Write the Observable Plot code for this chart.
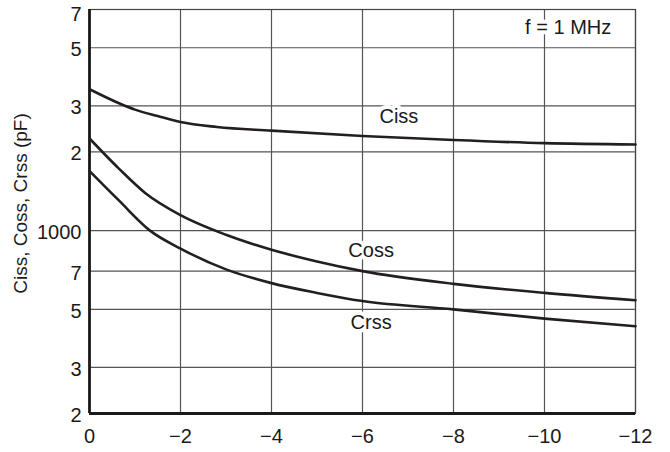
<!DOCTYPE html>
<html>
<head>
<meta charset="utf-8">
<script src="https://cdn.jsdelivr.net/npm/d3@7"></script>
<script src="https://cdn.jsdelivr.net/npm/@observablehq/plot@0.6"></script>
<style>
  html, body { margin: 0; padding: 0; background: white; }
  svg { display: block; }
</style>
</head>
<body>
<div id="chart"></div>
<script>
// Gate-source voltage (V) ticks and capacitance ticks (pF)
const xTicks = [0, -2, -4, -6, -8, -10, -12];
const yTicks = [200, 300, 500, 700, 1000, 2000, 3000, 5000, 7000];

// Ciss
const cissV = [0, -0.7, -1, -1.5, -2, -2.8, -4, -6, -8, -10, -12];
const cissC = [3470, 3040, 2900, 2740, 2600, 2490, 2410, 2300, 2220, 2160, 2135];
// Coss
const cossV = [0, -0.64, -1.23, -2, -3, -4, -5, -6, -8, -10, -12];
const cossC = [2250, 1730, 1390, 1146, 964, 845, 762, 700, 626, 578, 542];
// Crss
const crssV = [0, -0.64, -1.33, -2, -3, -4, -5, -6, -8, -10, -12];
const crssC = [1690, 1307, 1000, 854, 711, 630, 578, 538, 500, 461, 431];

// Annotations (data coordinates)
const labelText = ["Ciss", "Coss", "Crss", "f = 1 MHz"];
const labelV = [-6.8, -6.19, -6.19, -10.52];
const labelC = [2727, 836, 445, 5968];

const yLabel = "Ciss, Coss, Crss (pF)";

const toRows = (vs, cs) => vs.map((v, i) => ({v, c: cs[i]}));
const ciss = toRows(cissV, cissC);
const coss = toRows(cossV, cossC);
const crss = toRows(crssV, crssC);
const labels = labelText.map((t, i) => ({t, v: labelV[i], c: labelC[i]}));

const font = "'Liberation Sans', Arial, Helvetica, sans-serif";
const fs = 20;
const lineStyle = {x: "v", y: "c", stroke: "#231f20", strokeWidth: 2.6, curve: "monotone-x"};
const gridStyle = {stroke: "#555", strokeOpacity: 1, strokeWidth: 1.2};
const yFormat = d => d === 1000 ? "1000" : (d > 1000 ? String(d / 1000) : String(d / 100));
const yMax = yTicks[yTicks.length - 1];

const chart = Plot.plot({
  width: 670,
  height: 452,
  marginLeft: 89,
  marginRight: 35,
  marginTop: 9,
  marginBottom: 39,
  style: {fontFamily: font, fontSize: fs + "px", color: "#1a1a1a", background: "white"},
  x: {domain: [0, -12]},
  y: {type: "log", domain: [200, 7000]},
  marks: [
    Plot.gridX(xTicks, gridStyle),
    Plot.gridY(yTicks, gridStyle),
    Plot.frame({stroke: "#444", strokeWidth: 1.2}),
    Plot.axisX(xTicks, {
      tickSize: 0, tickPadding: 15, label: null, fontSize: fs,
      tickFormat: d => d === 0 ? "0" : "\u2212" + Math.abs(d)
    }),
    Plot.axisY(yTicks.filter(d => d !== yMax), {
      tickSize: 0, tickPadding: 8, label: null, fontSize: fs, dy: 2, tickFormat: yFormat
    }),
    Plot.axisY([yMax], {
      tickSize: 0, tickPadding: 8, label: null, fontSize: fs, dy: 5, tickFormat: yFormat
    }),
    Plot.text([yLabel], {
      frameAnchor: "left", rotate: -90, dx: -76, dy: -8,
      lineAnchor: "top", textAnchor: "middle", fontSize: 19, fill: "#1a1a1a"
    }),
    Plot.ruleX([0], {stroke: "#1a1a1a", strokeWidth: 2.8}),
    Plot.ruleY([200], {stroke: "#1a1a1a", strokeWidth: 2.8}),
    Plot.line(ciss, lineStyle),
    Plot.line(coss, lineStyle),
    Plot.line(crss, lineStyle),
    Plot.text(labels, {
      x: "v", y: "c", text: "t", fontSize: fs, fill: "#1a1a1a",
      stroke: "white", strokeWidth: 8, strokeLinejoin: "round", paintOrder: "stroke"
    })
  ]
});

document.getElementById("chart").appendChild(chart);
</script>
</body>
</html>
